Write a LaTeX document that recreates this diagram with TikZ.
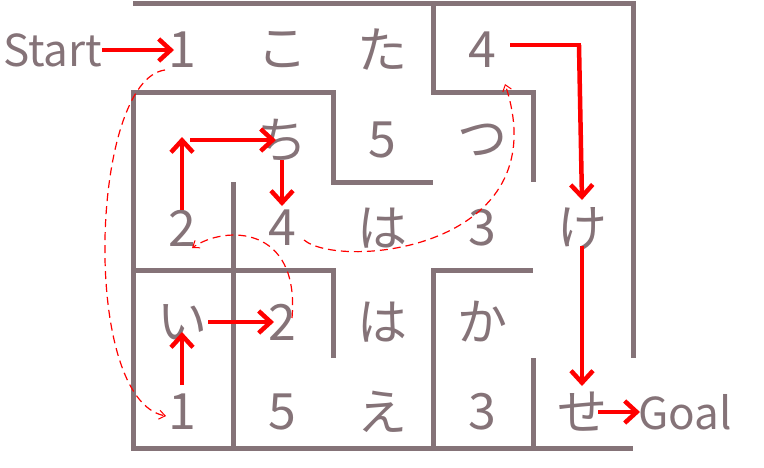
\documentclass[tikz,border=0pt]{standalone}
\usepackage{fontspec}
\setmainfont{Noto Sans CJK JP}
\usetikzlibrary{arrows.meta}
\definecolor{wallc}{HTML}{857378}
\begin{document}
\begin{tikzpicture}[x=1pt,y=-1pt,
  wall/.style={draw=wallc,line width=5pt},
  lbl/.style={text=wallc,font=\fontsize{50}{50}\selectfont},
  side/.style={text=wallc,font=\fontsize{44}{44}\selectfont,inner sep=0pt},
  path/.style={draw=red,line width=4.5pt,-{Straight Barb[length=12pt,width=22pt,line width=4.5pt]}},
  jump/.style={draw=red,line width=1.2pt,dashed,dash pattern=on 8pt off 5pt,-{Straight Barb[length=6pt,width=9pt,line width=1pt]}}]
\useasboundingbox (0,0) rectangle (764,467);
% walls
\draw[wall] (133,3) -- (636,3);
\draw[wall] (433,3) -- (433,92) -- (533,92) -- (533,182);
\draw[wall] (633,3) -- (633,358);
\draw[wall] (133,448) -- (133,92) -- (333,92) -- (333,182) -- (433,182);
\draw[wall] (233,182) -- (233,448);
\draw[wall] (133,270) -- (333,270) -- (333,358);
\draw[wall] (433,448) -- (433,270) -- (533,270);
\draw[wall] (533,358) -- (533,448);
\draw[wall] (131,448) -- (633,448);
% labels
\node[lbl] (a1) at (182,50) {1};
\node[lbl] (a2) at (282,50) {こ};
\node[lbl] (a3) at (382,50) {た};
\node[lbl] (a4) at (482,50) {4};
\node[lbl] (b2) at (282,140) {ち};
\node[lbl] (b3) at (382,140) {5};
\node[lbl] (b4) at (482,140) {つ};
\node[lbl] (c1) at (182,228) {2};
\node[lbl] (c2) at (282,228) {4};
\node[lbl] (c3) at (382,228) {は};
\node[lbl] (c4) at (482,228) {3};
\node[lbl] (c5) at (582,228) {け};
\node[lbl] (d1) at (182,322) {い};
\node[lbl] (d2) at (282,322) {2};
\node[lbl] (d3) at (382,322) {は};
\node[lbl] (d4) at (482,322) {か};
\node[lbl] (e1) at (182,412) {1};
\node[lbl] (e2) at (282,412) {5};
\node[lbl] (e3) at (382,412) {え};
\node[lbl] (e4) at (482,412) {3};
\node[lbl] (e5) at (582,412) {せ};
\node[side,anchor=west] (start) at (3,50) {Start};
\node[side,anchor=west] (goal) at (638,412) {Goal};
\coordinate (k1) at (579,45);
\coordinate (k2) at (182,140);
% solid path
\draw[path] (start.east) -- ([xshift=-8pt]a1.center);
\draw[draw=red,line width=4.5pt] ([xshift=28pt,yshift=5pt]a4.center) -- ([xshift=2.25pt]k1);
\draw[path] (k1) -- ([yshift=28pt]c5.center);
\draw[path] ([yshift=-18pt]c5.center) -- ([yshift=26pt]e5.center);
\draw[path] ([xshift=16pt]e5.center) -- ([xshift=2pt]goal.west);
\draw[path] ([yshift=18pt]c1.center) -- ([yshift=3pt]k2);
\draw[path] ([xshift=8pt]k2) -- ([xshift=-6pt]b2.center);
\draw[path] ([yshift=-20pt]b2.center) -- ([yshift=22pt]c2.center);
\draw[path] ([yshift=27pt]e1.center) -- ([yshift=-10pt]d1.center);
\draw[path] ([xshift=26pt]d1.center) -- ([xshift=-8pt]d2.center);
% jumps
\draw[jump] ([xshift=-17pt,yshift=-20pt]a1.center) .. controls (90,80) and (80,400) .. ([xshift=-16pt,yshift=-4pt]e1.center);
\draw[jump] ([xshift=22pt,yshift=-12pt]c2.center) .. controls (340,270) and (560,250) .. ([xshift=23pt,yshift=-34pt]a4.center);
\draw[jump] ([xshift=10pt,yshift=4pt]d2.center) .. controls (300,225) and (225,225) .. ([xshift=10pt,yshift=-20pt]c1.center);
\end{tikzpicture}
\end{document}
